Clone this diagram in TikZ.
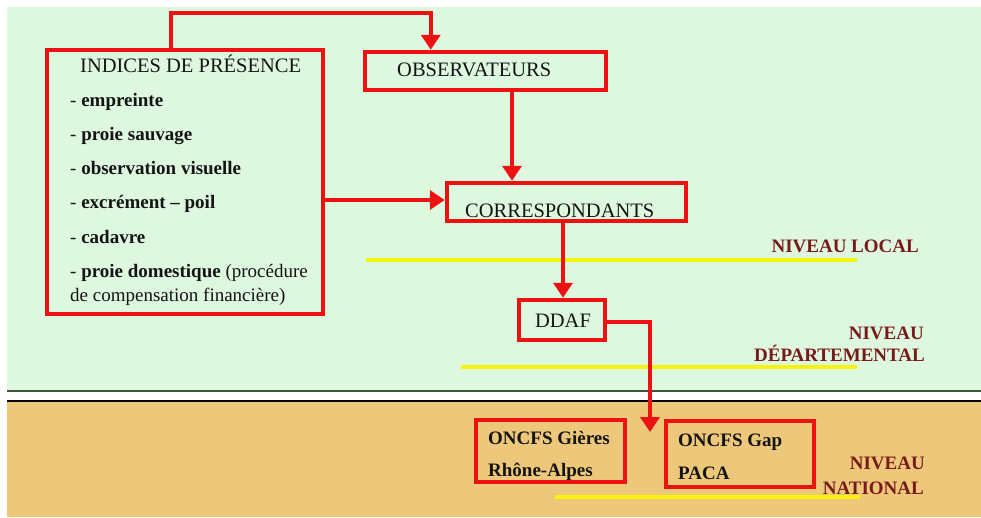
\documentclass[tikz,border=0pt]{standalone}
\usepackage{fontspec}
\setmainfont{Liberation Serif}
\newfontfamily\tnr{Liberation Serif}
\usetikzlibrary{arrows.meta,calc}
\definecolor{rd}{RGB}{236,18,18}
\definecolor{bggreen}{RGB}{222,248,224}
\definecolor{bgorange}{RGB}{238,200,122}
\definecolor{lvl}{RGB}{120,26,26}
\definecolor{ylw}{RGB}{246,244,10}
\definecolor{txt}{RGB}{20,20,20}
\tikzset{
  redbox/.style={draw=rd,line width=4.5pt,inner sep=0pt},
  conn/.style={draw=rd,line width=4pt},
  arr/.style={conn,-{Triangle[width=19pt,length=15pt]}},
  tx/.style={anchor=mid west,inner sep=0pt,yshift=-4.5pt,text=txt,font=\tnr\fontsize{19}{21}\selectfont},
  hd/.style={tx,font=\tnr\fontsize{20.5}{22}\selectfont},
  bx/.style={tx,font=\tnr\fontsize{19}{21}\selectfont\bfseries},
  lv/.style={anchor=mid east,inner sep=0pt,yshift=-4.5pt,text=lvl,font=\tnr\fontsize{19}{21}\selectfont\bfseries},
  yline/.style={draw=ylw,line width=4pt},
}
\begin{document}
\begin{tikzpicture}[x=1pt,y=-1pt]
\useasboundingbox (0,0) rectangle (981,517);
% backgrounds
\fill[white] (0,0) rectangle (981,517);
\fill[bggreen] (7,7) rectangle (981,391);
\fill[bgorange] (7,401) rectangle (981,517);
\draw[line width=1.5pt,color={rgb,255:red,60;green,85;blue,60}] (7,391) -- (981,391);
\draw[line width=1.5pt,black] (7,401) -- (981,401);
% yellow level lines
\draw[yline] (366,260) -- (857,260);
\draw[yline] (461,367) -- (857,367);
\draw[yline] (555,497) -- (860,497);
% boxes
\node[redbox,minimum width=276pt,minimum height=264pt] (ind) at (185,182) {};
\node[redbox,minimum width=241pt,minimum height=38pt] (obs) at (485.5,71) {};
\node[redbox,minimum width=239pt,minimum height=38pt] (corr) at (566.5,202) {};
\node[redbox,minimum width=86pt,minimum height=40pt] (ddaf) at (562,320) {};
\node[redbox,minimum width=149pt,minimum height=62pt] (gieres) at (550.5,451) {};
\node[redbox,minimum width=148pt,minimum height=66pt] (gap) at (740,454) {};
% texts
\node[hd] (t0) at (80,66) {INDICES DE PRÉSENCE};
\node[tx] (t1) at (70,100) {- \textbf{empreinte}};
\node[tx] (t2) at (70,134) {- \textbf{proie sauvage}};
\node[tx] (t3) at (70,168) {- \textbf{observation visuelle}};
\node[tx] (t4) at (70,202) {- \textbf{excrément – poil}};
\node[tx] (t5) at (70,237) {- \textbf{cadavre}};
\node[tx] (t6) at (70,271) {- \textbf{proie domestique} (procédure};
\node[tx] (t7) at (70,295) {de compensation financière)};
\node[hd] (tobs) at (397,70) {OBSERVATEURS};
\node[hd] (tcorr) at (465,211) {CORRESPONDANTS};
\node[hd,anchor=mid] (tddaf) at (563,321) {DDAF};
\node[bx] (tg1) at (488,438) {ONCFS Gières};
\node[bx] (tg2) at (488,470) {Rhône-Alpes};
\node[bx] (tp1) at (678,440) {ONCFS Gap};
\node[bx] (tp2) at (678,473) {PACA};
\node[lv] (l1) at (919,246) {NIVEAU LOCAL};
\node[lv] (l2) at (924,333) {NIVEAU};
\node[lv] (l3) at (925,355) {DÉPARTEMENTAL};
\node[lv] (l4) at (925,463) {NIVEAU};
\node[lv] (l5) at (924,488) {NATIONAL};
% connectors
\coordinate (arrtip) at (650,432);
\draw[arr] ([xshift=126pt]ind.north west) |- ([xshift=68pt,yshift=37pt]obs.north west) -- ([xshift=68pt]obs.north west);
\draw[arr] ([xshift=26.5pt]obs.south) -- ([xshift=26.5pt]obs.south |- corr.north);
\draw[arr] ([yshift=-18pt]ind.east) -- ([yshift=-18pt]ind.east -| corr.west);
\draw[arr] ([xshift=-3.5pt]corr.south) -- ([xshift=-3.5pt]corr.south |- ddaf.north);
\draw[arr] ([yshift=-2pt]ddaf.east) -| (arrtip);
\end{tikzpicture}
\end{document}
